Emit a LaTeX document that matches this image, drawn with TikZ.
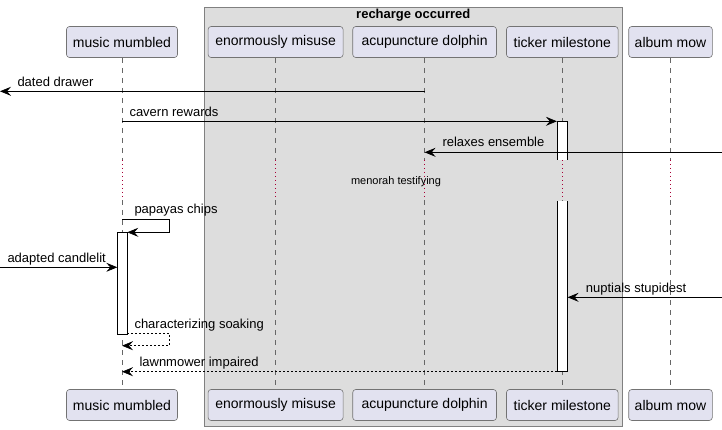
\documentclass[tikz,border=0pt]{standalone}
\usepackage{fontspec}
\setmainfont{Liberation Sans}
\usetikzlibrary{arrows.meta,positioning}
\definecolor{partfill}{HTML}{E2E2F0}
\definecolor{boxfill}{HTML}{DDDDDD}
\definecolor{delayred}{HTML}{A80036}

\tikzset{
  participant/.style={draw=black!55, fill=partfill, rounded corners=3pt, minimum height=31pt,
    inner xsep=0pt, line width=0.6pt, font=\fontsize{14}{16}\selectfont},
  groupbox/.style={draw=black!50, fill=boxfill, line width=0.7pt, inner sep=0pt},
  grouptitle/.style={font=\fontsize{13}{15}\selectfont\bfseries, inner sep=0pt},
  lifeline/.style={black!60, line width=0.5pt, dash pattern=on 5pt off 5pt},
  delayline/.style={delayred, line width=0.8pt, dash pattern=on 1pt off 3pt},
  activation/.style={draw=black, fill=white, line width=0.7pt},
  msg/.style={black, line width=0.7pt, -{Stealth[length=11pt,width=9pt,inset=4pt]}},
  reply/.style={msg, dash pattern=on 2pt off 2pt},
  msglabel/.style={font=\fontsize{13}{15}\selectfont, inner sep=0pt, anchor=base west},
  delaylabel/.style={font=\fontsize{11}{13}\selectfont, inner sep=0pt, anchor=base},
}

\begin{document}
\begin{tikzpicture}[x=1pt,y=-1pt]
	\useasboundingbox (0,0) rectangle (722,430);
	% the box round the three participants
	\node[groupbox, minimum width=418pt, minimum height=419pt, anchor=north west] (grp) at (204.3,6.7) {};
	\node[grouptitle, anchor=base] (grptitle) at (413.3,18.5) {recharge occurred};
	% participants and lifelines
	\foreach \id/\x/\w/\txt in {mm/122/111/music mumbled, em/275.6/135/enormously misuse,
	    ad/424.6/143.7/acupuncture dolphin, tm/562.3/111.6/ticker milestone, am/670.5/83.6/album mow}{
		\node[participant, minimum width=\w pt] (\id-top) at (\x,42) {\txt};
		\node[participant, minimum width=\w pt] (\id-bot) at (\x,405) {\txt};
		\draw[lifeline] (\id-top) -- (\id-top |- 0,160);
		\draw[delayline] (\id-top |- 0,160) -- (\id-top |- 0,200);
		\draw[lifeline] (\id-top |- 0,200) -- (\id-bot);
	}
	% activations
	\path[activation] (556.9,160) -- (556.9,121.3) -- (567.6,121.3) -- (567.6,160);
	\path[activation] (556.9,201) -- (556.9,371.7) -- (567.6,371.7) -- (567.6,201);
	\draw[activation] (117.3,232.3) rectangle (127.3,334.3);
	% free ends at the page edges
	\coordinate (west) at (0,0);
	\coordinate (east) at (722,0);
	% messages
	\draw[msg] (ad-top |- 0,91.3) -- (west |- 0,91.3);
	\node[msglabel] (l1) at (17.3,86.3) {dated drawer};
	\draw[msg] (mm-top |- 0,121.3) -- (556.9,121.3);
	\node[msglabel] (l2) at (129.3,116.5) {cavern rewards};
	\draw[msg] (east |- 0,152.3) -- (ad-top |- 0,152.3);
	\node[msglabel] (l3) at (442.3,147) {relaxes ensemble};
	\node[delaylabel] (dl) at (396,185) {menorah testifying};
	\draw[msg] (mm-top |- 0,219.3) -- (169.3,219.3) -- (169.3,232.3) -- (127.3,232.3);
	\node[msglabel] (l4) at (134.3,213.8) {papayas chips};
	\draw[msg] (west |- 0,267.3) -- (117.3,267.3);
	\node[msglabel] (l5) at (7.3,262.5) {adapted candlelit};
	\draw[msg] (east |- 0,297.3) -- (567.6,297.3);
	\node[msglabel] (l6) at (585.7,292.5) {nuptials stupidest};
	\draw[reply] (127.3,333.3) -- (169.3,333.3) -- (169.3,345.7) -- (mm-top |- 0,345.7);
	\node[msglabel] (l7) at (134.3,328) {characterizing soaking};
	\draw[reply] (556.9,371.7) -- (mm-top |- 0,371.7);
	\node[msglabel] (l8) at (139.3,366.8) {lawnmower impaired};
\end{tikzpicture}
\end{document}
